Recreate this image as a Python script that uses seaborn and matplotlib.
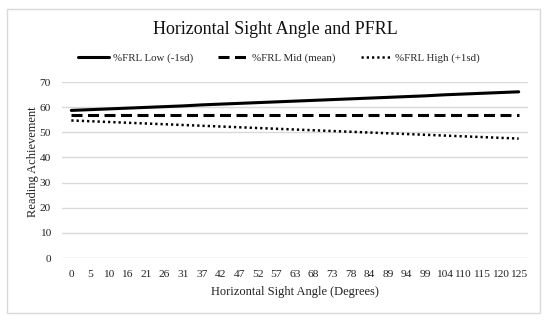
import pandas as pd
import matplotlib
matplotlib.use("Agg")
import matplotlib.pyplot as plt
from matplotlib.patches import Rectangle
import seaborn as sns

# x categories (degrees) as shown on the axis
angles = ["0", "5", "10", "16", "21", "26", "31", "37", "42", "47", "52", "57", "63",
          "68", "73", "78", "84", "89", "94", "99", "104", "110", "115", "120", "125"]

frl_low = [58.7, 59.0, 59.3, 59.6, 59.9, 60.2, 60.5, 60.9, 61.2, 61.5, 61.8, 62.1, 62.4,
           62.7, 63.0, 63.3, 63.6, 63.9, 64.2, 64.5, 64.9, 65.2, 65.5, 65.8, 66.1]
frl_mid = [56.9, 56.9, 56.9, 56.9, 56.9, 56.9, 56.9, 56.9, 56.9, 56.9, 56.9, 56.9, 56.9,
           56.9, 56.9, 56.9, 56.9, 56.9, 56.9, 56.9, 56.9, 56.9, 56.9, 56.9, 56.9]
frl_high = [54.7, 54.4, 54.1, 53.8, 53.5, 53.2, 52.9, 52.6, 52.3, 52.0, 51.7, 51.4, 51.1,
            50.8, 50.5, 50.2, 49.9, 49.6, 49.3, 49.0, 48.7, 48.4, 48.1, 47.8, 47.5]

series_names = ["%FRL Low (-1sd)", "%FRL Mid (mean)", "%FRL High (+1sd)"]
y_ticks = [0, 10, 20, 30, 40, 50, 60, 70]

sns.set_theme(style="white")
plt.rcParams["font.family"] = ["Liberation Serif", "DejaVu Serif"]

fig = plt.figure(figsize=(5.5, 3.22), dpi=100)
ax = fig.add_axes([62 / 550, 1 - 258 / 322, (528 - 62) / 550, (258 - 82) / 322])

idx = list(range(len(angles)))
styles = [
    dict(linestyle="-", linewidth=2.2),
    dict(linestyle=(0, (3.6, 1.8)), linewidth=2.2),
    dict(linestyle=(0, (0.9, 1.2)), linewidth=1.8),
]
for name, vals, st in zip(series_names, [frl_low, frl_mid, frl_high], styles):
    df = pd.DataFrame({"x": idx, "y": vals})
    sns.lineplot(data=df, x="x", y="y", ax=ax, color="black", label=name, **st)

ax.set_xlim(-0.5, len(angles) - 0.5)
ax.set_ylim(0, 70)
ax.set_yticks(y_ticks)
ax.set_xticks(idx)
ax.set_xticklabels(angles)
ax.tick_params(axis="both", labelsize=8.2, length=0, colors="#222222")
ax.tick_params(axis="y", pad=8)
ax.tick_params(axis="x", pad=8.5)
ax.yaxis.grid(True, color="#d9d9d9", linewidth=1)
ax.xaxis.grid(False)
for s in ax.spines.values():
    s.set_visible(False)

ax.set_xlabel("Horizontal Sight Angle (Degrees)", fontsize=9, color="#222222", labelpad=5)
ax.set_ylabel("Reading Achievement", fontsize=9, color="#222222")
ax.yaxis.set_label_coords(-0.05, 0.55)

fig.text(275 / 550, 1 - 30 / 322, "Horizontal Sight Angle and PFRL",
         ha="center", va="center", fontsize=13, color="#111111")

leg = ax.legend(loc="center", bbox_to_anchor=(279 / 550, 1 - 58 / 322),
                bbox_transform=fig.transFigure, ncol=3, frameon=False, fontsize=7.8,
                handlelength=2.9, columnspacing=2.3, handletextpad=0.3)

# outer chart border
fig.patches.append(Rectangle((7 / 550, 1 - 313 / 322), (540 - 7) / 550, (313 - 9) / 322,
                             transform=fig.transFigure, fill=False,
                             edgecolor="#d9d9d9", linewidth=1))

fig.savefig("out.png", dpi=100)
